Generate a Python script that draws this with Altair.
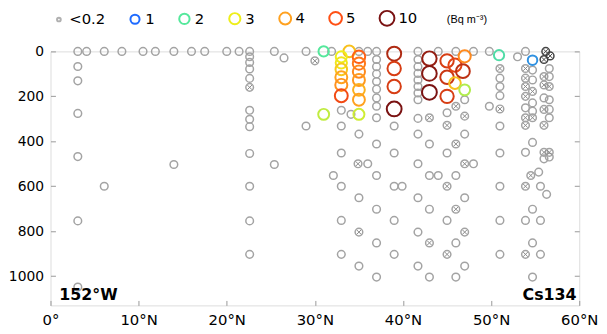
import altair as alt
import pandas as pd

# ---------------- data ----------------
# plain grey circles (< 0.2 Bq m-3): latitude -> sampled depths (m)
grey_stations = [
    (3.1, [0, 67, 131, 276, 468, 754, 1048]),
    (4.1, [0]),
    (6.1, [0, 600]),
    (8.1, [0]),
    (10.5, [0]),
    (11.9, [0]),
    (14.0, [0, 503]),
    (16.0, [0]),
    (17.5, [0]),
    (20.0, [0]),
    (21.4, [0]),
    (22.6, [0, 24, 49, 78, 120, 262, 302, 335, 454, 600, 754, 903]),
    (25.4, [0, 503]),
    (26.5, [29]),
    (29.0, [0, 332]),
    (31.9, [0]),
    (32.1, [552]),
    (33.0, [262, 332, 452, 600, 752, 903]),
    (34.1, [280]),
    (35.0, [0, 368, 651, 955]),
    (36.0, [0, 500]),
    (37.0, [0, 36, 68, 100, 134, 168, 207, 244, 295, 412, 552, 702, 852, 1004]),
    (39.0, [332, 452, 600, 752, 903]),
    (39.9, [600]),
    (41.7, [0, 36, 68, 98, 127, 156, 185, 215, 298, 368, 500, 651, 804, 955]),
    (43.0, [412, 552, 702, 1004]),
    (44.0, [0, 552]),
    (45.0, [273, 452, 752]),
    (46.0, [0, 552, 852, 1004]),
    (47.0, [215, 368, 651, 955]),
    (48.0, [0, 500]),
    (49.8, [0, 244]),
    (51.0, [119, 156, 197, 332, 452, 600, 752, 903]),
    (53.0, [24]),
    (53.9, [0, 251, 449, 752]),
    (54.7, [83, 127, 229, 266, 405, 702, 852, 1004]),
    (55.4, [537]),
    (55.6, [600, 752, 903]),
    (56.0, [207, 478]),
    (56.3, [636]),
    (56.6, [76, 112, 215, 258, 295, 470]),
]

# grey circles with a cross
cross_stations = [
    (22.6, [160]),
    (30.0, [42]),
    (34.9, [500]),
    (35.0, [804]),
    (43.0, [295, 852]),
    (45.0, [329, 600, 903]),
    (46.0, [244, 412, 702]),
    (47.0, [288, 500, 804]),
    (51.0, [76, 256]),
    (53.9, [76, 119, 156, 200, 295, 329, 600, 903]),
    (54.5, [552]),
    (54.7, [178, 295]),
    (56.0, [112, 149, 258, 329, 449]),
    (56.6, [156, 449]),
]

# dark crossed circles near the surface at the northern end
dark_lat = [56.2, 56.0, 56.7]
dark_dep = [0, 36, 20]

# detected Cs-134 (Bq m-3)
cs_lat = [31.0, 33.9, 33.0, 33.0, 33.0, 33.0, 33.0, 33.0,
          35.0, 35.0, 35.0, 35.0, 35.0, 35.0, 35.0, 31.0,
          39.0, 39.0, 39.0, 39.0, 43.0, 43.0, 43.0,
          45.0, 45.0, 45.0, 45.9, 45.9, 47.0, 47.0, 46.8, 50.9, 54.7]
cs_dep = [0, 0, 24, 51, 80, 115, 149, 197,
          24, 54, 90, 127, 171, 215, 280, 280,
          10, 76, 156, 256, 32, 98, 182,
          42, 115, 200, 61, 141, 22, 171, 88, 17, 39]
cs_val = [2.0, 3.6, 3.0, 3.1, 3.5, 4.0, 4.2, 5.5,
          4.8, 4.5, 4.3, 4.1, 3.8, 4.0, 2.8, 2.7,
          8.0, 6.5, 6.5, 10.0, 9.0, 9.5, 10.0,
          6.5, 7.0, 6.5, 6.0, 3.6, 4.3, 2.6, 7.5, 1.9, 1.3]

legend_values = [0.2, 1, 2, 3, 4, 5, 10]
legend_colors = ["#b0b0b0", "#1f6bff", "#55e89c", "#eeee1a", "#ffa11f", "#ff5014", "#7a1212"]
legend_sizes = [14, 85, 110, 128, 145, 165, 225]

x_ticks = [0, 10, 20, 30, 40, 50, 60]
y_ticks = [0, 200, 400, 600, 800, 1000]

ann_text = ["152°W", "Cs134"]
ann_lat = [1.0, 59.7]
ann_dep = [1085, 1085]

# ---------------- tables ----------------
grey_df = pd.DataFrame([{"lat": la, "dep": d} for la, ds in grey_stations for d in ds])
cross_df = pd.DataFrame([{"lat": la, "dep": d} for la, ds in cross_stations for d in ds])
dark_df = pd.DataFrame({"lat": dark_lat, "dep": dark_dep})
cs_df = pd.DataFrame({"lat": cs_lat, "dep": cs_dep, "v": cs_val})
ann_df = pd.DataFrame({"t": ann_text, "lat": ann_lat, "dep": ann_dep})

FONT = "DejaVu Sans"
XPATH = "M-0.6,-0.6L0.6,0.6M-0.6,0.6L0.6,-0.6"

x_scale = alt.Scale(domain=[0, 60], nice=False, zero=False)
y_scale = alt.Scale(domain=[0, 1130], reverse=True, nice=False, zero=False)

x_axis = alt.Axis(values=x_ticks, title=None, grid=False, domain=False,
                  labelExpr="datum.value == 0 ? '0°' : datum.value + '°N'",
                  tickSize=5, offset=-5, tickColor="#999999", labelPadding=7,
                  labelFontSize=15, labelFont=FONT, labelColor="#000000",
                  labelFlush=False, labelOverlap=False)
y_left = alt.Axis(values=y_ticks, title=None, grid=False, domain=False, format="d",
                  tickSize=5, offset=-5, tickColor="#999999", labelPadding=7,
                  labelFontSize=14, labelFont=FONT, labelColor="#000000",
                  labelFlush=False, labelOverlap=False)
y_right = alt.Axis(values=y_ticks, title=None, grid=False, domain=False, orient="right",
                   tickSize=5, offset=-5, tickColor="#999999", labels=False)


def xenc():
    return alt.X("lat:Q", scale=x_scale, axis=x_axis)


all_circ = pd.concat([grey_df, cross_df], ignore_index=True)

grey_layer = alt.Chart(all_circ).mark_point(
    filled=False, color="#a3a3a3", strokeWidth=1.5, size=60, opacity=1
).encode(
    x=xenc(),
    y=alt.Y("dep:Q", scale=y_scale, axis=y_left),
)

cross_layer = alt.Chart(cross_df).mark_point(
    shape=XPATH, filled=False, color="#8a8a8a", strokeWidth=1, size=60, opacity=1
).encode(
    x=xenc(),
    y=alt.Y("dep:Q", scale=y_scale, axis=y_right),
)

dark_circ = alt.Chart(dark_df).mark_point(
    filled=False, color="#444444", strokeWidth=1.5, size=60, opacity=1
).encode(
    x=xenc(),
    y=alt.Y("dep:Q", scale=y_scale, axis=None),
)
dark_x = alt.Chart(dark_df).mark_point(
    shape=XPATH, filled=False, color="#444444", strokeWidth=1, size=60, opacity=1
).encode(
    x=xenc(),
    y=alt.Y("dep:Q", scale=y_scale, axis=None),
)

leg = alt.Legend(
    orient="none", legendX=1, legendY=-42, direction="horizontal",
    values=legend_values,
    labelExpr="datum.value < 0.5 ? '<0.2' : '' + datum.value",
    title="(Bq m⁻³)", titleOrient="right", titleFontSize=11, titleFontWeight="normal",
    titleFont="Liberation Sans", titleColor="#000000", titlePadding=30, titleBaseline="middle",
    labelFontSize=15, labelFont=FONT, labelColor="#000000", labelOffset=3,
    columnPadding=20, symbolStrokeWidth=2, symbolType="circle",
)

cs_layer = alt.Chart(cs_df).mark_point(filled=False, strokeWidth=2, opacity=1).encode(
    x=xenc(),
    y=alt.Y("dep:Q", scale=y_scale, axis=None),
    color=alt.Color("v:Q", scale=alt.Scale(domain=legend_values, range=legend_colors,
                                            interpolate="rgb"), legend=leg),
    size=alt.Size("v:Q", scale=alt.Scale(domain=legend_values, range=legend_sizes), legend=leg),
)

ann_left = alt.Chart(ann_df.iloc[[0]]).mark_text(
    align="left", baseline="middle", font=FONT, fontSize=16, fontWeight="bold", color="#000000"
).encode(
    x=xenc(),
    y=alt.Y("dep:Q", scale=y_scale, axis=None),
    text="t:N",
)
ann_right = alt.Chart(ann_df.iloc[[1]]).mark_text(
    align="right", baseline="middle", font=FONT, fontSize=16, fontWeight="bold", color="#000000"
).encode(
    x=xenc(),
    y=alt.Y("dep:Q", scale=y_scale, axis=None),
    text="t:N",
)

chart = alt.layer(
    grey_layer, cross_layer, dark_circ, dark_x, cs_layer, ann_left, ann_right
).resolve_axis(y="independent").properties(
    width=535, height=257,
    autosize=alt.AutoSizeParams(type="none"),
    padding={"left": 43, "top": 42, "right": 20, "bottom": 25},
).configure_view(stroke="#999999", strokeWidth=1).configure(background="white")

chart.save("out.html", embed_options={"renderer": "svg", "actions": False})
